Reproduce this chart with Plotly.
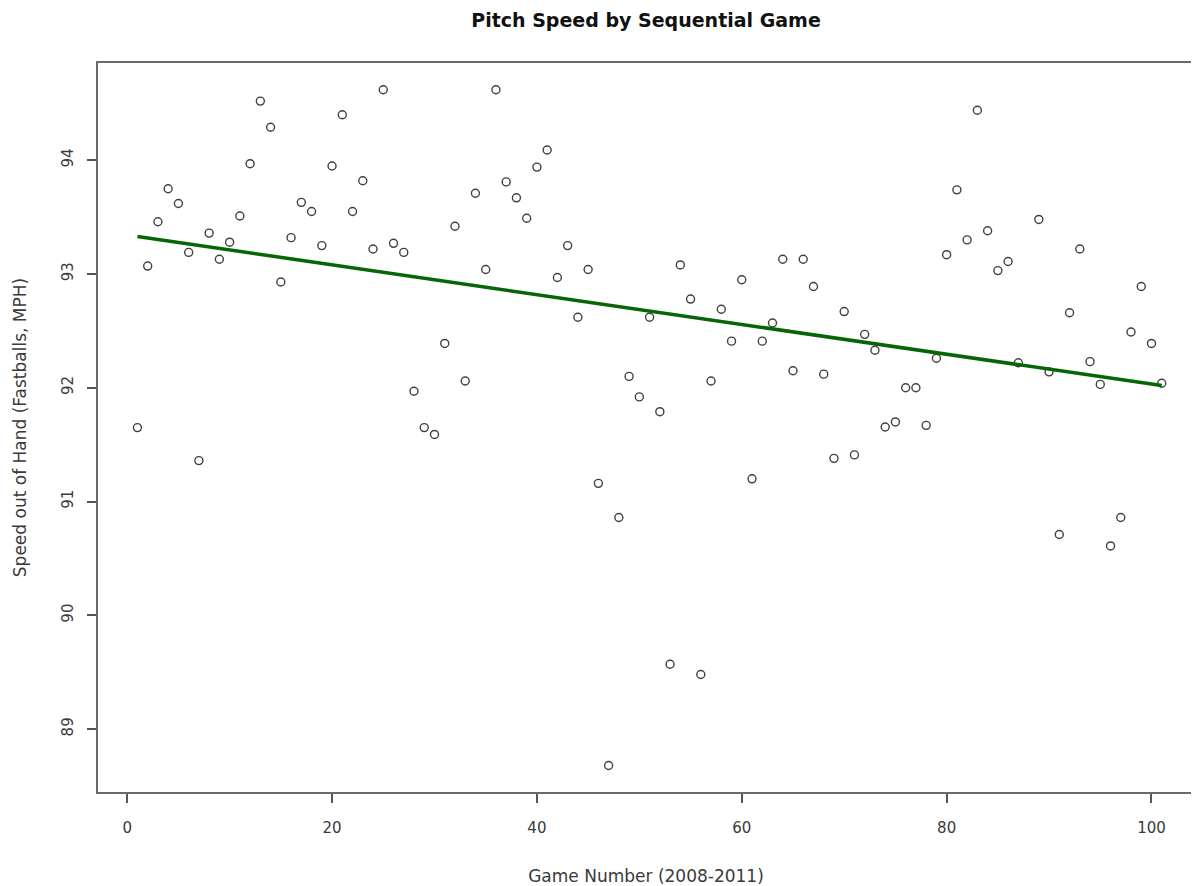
import plotly.graph_objects as go

game = [1, 2, 3, 4, 5, 6, 7, 8, 9, 10,
        11, 12, 13, 14, 15, 16, 17, 18, 19, 20,
        21, 22, 23, 24, 25, 26, 27, 28, 29, 30,
        31, 32, 33, 34, 35, 36, 37, 38, 39, 40,
        41, 42, 43, 44, 45, 46, 47, 48, 49, 50,
        51, 52, 53, 54, 55, 56, 57, 58, 59, 60,
        61, 62, 63, 64, 65, 66, 67, 68, 69, 70,
        71, 72, 73, 74, 75, 76, 77, 78, 79, 80,
        81, 82, 83, 84, 85, 86, 87, 89, 90,
        91, 92, 93, 94, 95, 96, 97, 98, 99, 100, 101]

speed = [91.65, 93.07, 93.46, 93.75, 93.62, 93.19, 91.36, 93.36, 93.13, 93.28,
         93.51, 93.97, 94.52, 94.29, 92.93, 93.32, 93.63, 93.55, 93.25, 93.95,
         94.40, 93.55, 93.82, 93.22, 94.62, 93.27, 93.19, 91.97, 91.65, 91.59,
         92.39, 93.42, 92.06, 93.71, 93.04, 94.62, 93.81, 93.67, 93.49, 93.94,
         94.09, 92.97, 93.25, 92.62, 93.04, 91.16, 88.68, 90.86, 92.10, 91.92,
         92.62, 91.79, 89.57, 93.08, 92.78, 89.48, 92.06, 92.69, 92.41, 92.95,
         91.20, 92.41, 92.57, 93.13, 92.15, 93.13, 92.89, 92.12, 91.38, 92.67,
         91.41, 92.47, 92.33, 91.655, 91.70, 92.00, 92.00, 91.67, 92.26, 93.17,
         93.74, 93.30, 94.44, 93.38, 93.03, 93.11, 92.22, 93.48, 92.14,
         90.71, 92.66, 93.22, 92.23, 92.03, 90.61, 90.86, 92.49, 92.89, 92.39, 92.04]

fit_x = [1, 101]
fit_y = [93.33, 92.02]

x_ticks = [0, 20, 40, 60, 80, 100]
y_ticks = [89, 90, 91, 92, 93, 94]

FONT = "DejaVu Sans, Liberation Sans, Arial, sans-serif"
TXT = "#3a3a3a"
FRAME = "#6a6a6a"

fig = go.Figure()
fig.add_trace(go.Scatter(
    x=game, y=speed, mode="markers",
    marker=dict(symbol="circle-open", size=8, color="#404040",
                line=dict(width=1.4, color="#404040")),
    showlegend=False, hoverinfo="x+y"))
fig.add_trace(go.Scatter(
    x=fit_x, y=fit_y, mode="lines",
    line=dict(color="#076407", width=3.5),
    showlegend=False))

fig.update_layout(
    width=1199, height=886,
    margin=dict(l=89, r=11, t=55, b=101),
    paper_bgcolor="white", plot_bgcolor="white",
    font=dict(family=FONT, color=TXT, size=15),
    title=dict(text="<b>Pitch Speed by Sequential Game</b>",
               x=0.5, xref="paper", xanchor="center",
               y=1 - 12 / 886, yref="container", yanchor="middle",
               font=dict(family=FONT, size=19, color="#111111")),
)
fig.update_xaxes(
    range=[-2.85, 104.15], tickvals=x_ticks, ticktext=[str(v) for v in x_ticks],
    showgrid=False, zeroline=False,
    showline=True, mirror=True, linecolor=FRAME, linewidth=2.2,
    ticks="outside", ticklen=9, tickwidth=1.5, tickcolor="#555555",
    ticklabelstandoff=12,
    tickfont=dict(size=15, color=TXT),
    title=dict(text="Game Number (2008-2011)", standoff=34,
               font=dict(size=17, color=TXT)),
)
fig.update_yaxes(
    range=[88.447, 94.855], tickvals=y_ticks, ticktext=[str(v) for v in y_ticks],
    showgrid=False, zeroline=False,
    showline=True, mirror=True, linecolor=FRAME, linewidth=2.2,
    ticks="outside", ticklen=9, tickwidth=1.5, tickcolor="#555555",
    tickangle=-90, ticklabelstandoff=8,
    tickfont=dict(size=15, color=TXT),
    title=dict(text="Speed out of Hand (Fastballs, MPH)", standoff=28,
               font=dict(size=17, color=TXT)),
)

fig.write_html("out.html")
